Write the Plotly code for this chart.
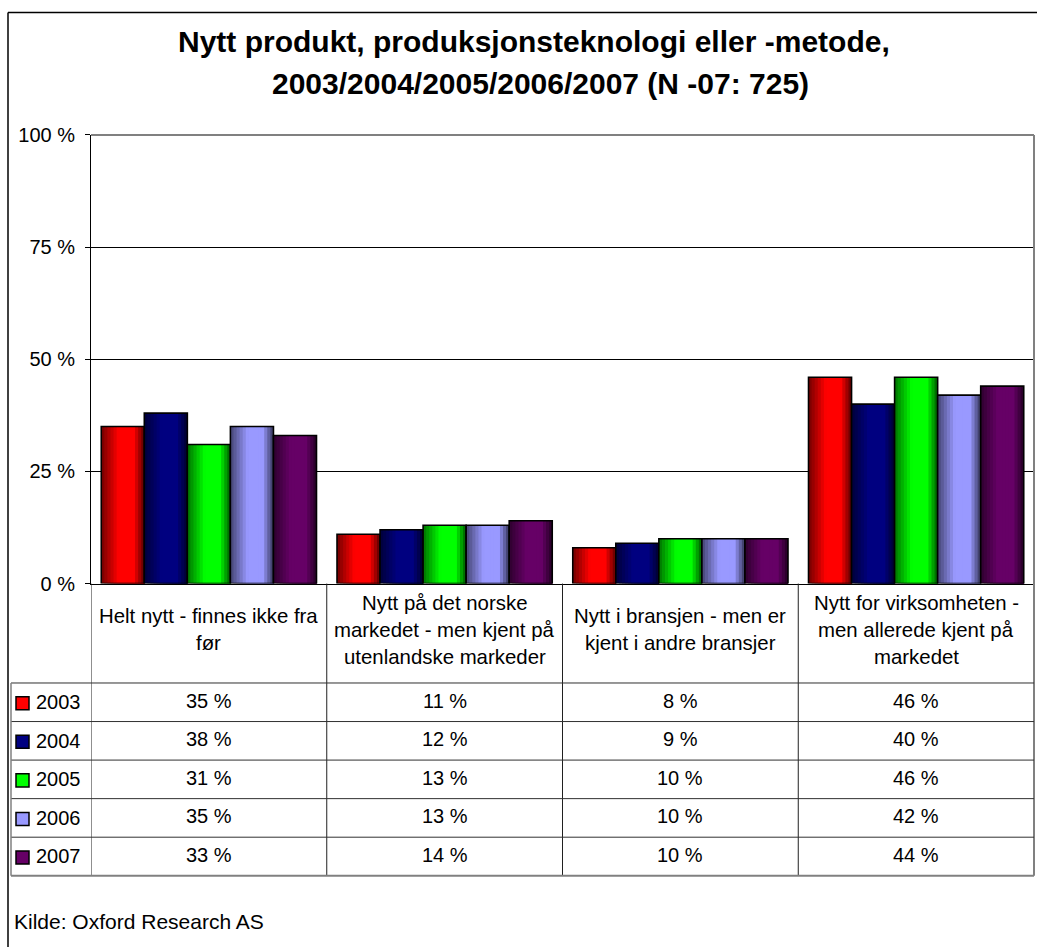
import plotly.graph_objects as go

# ---------------- data ----------------
categories = [
    "Helt nytt - finnes ikke fra<br>før",
    "Nytt på det norske<br>markedet - men kjent på<br>utenlandske markeder",
    "Nytt i bransjen - men er<br>kjent i andre bransjer",
    "Nytt for virksomheten -<br>men allerede kjent på<br>markedet",
]
years = ["2003", "2004", "2005", "2006", "2007"]
values_2003 = [35, 11, 8, 46]
values_2004 = [38, 12, 9, 40]
values_2005 = [31, 13, 10, 46]
values_2006 = [35, 13, 10, 42]
values_2007 = [33, 14, 10, 44]
series_values = [values_2003, values_2004, values_2005, values_2006, values_2007]
colors = ["#FF0000", "#000080", "#00FF00", "#9999FF", "#660066"]
y_ticks = [0, 25, 50, 75, 100]
y_tick_labels = ["0 %", "25 %", "50 %", "75 %", "100 %"]
title_lines = [
    "Nytt produkt, produksjonsteknologi eller -metode,",
    "2003/2004/2005/2006/2007 (N -07: 725)",
]
source_text = "Kilde: Oxford Research AS"

# ---------------- layout constants (pixels in the target picture) ----------------
W, H = 1037, 947
FONT = "Liberation Sans, Arial, sans-serif"
PLOT_L, PLOT_R, PLOT_T, PLOT_B = 91, 1034, 135, 582
HEADER_MID = 628
HEADER_LINE = 27
ROW_TOP, ROW_BOT = 681, 873
N_ROWS = len(years)
ROW_H = (ROW_BOT - ROW_TOP) / N_ROWS
TITLE_X = [534, 540]
TITLE_Y = [42, 84]

# vertical calibration of the photographed page (measured offset / scale)
Y_OFF, Y_SCALE = 11.6, 0.973


def px(x):
    return x / W


def py(y):
    return 1 - ((y - Y_OFF) / Y_SCALE) / H


def hex_rgb(h):
    h = h.lstrip("#")
    return tuple(int(h[i:i + 2], 16) for i in (0, 2, 4))


def shade_factor(t):
    pts = [(0.0, 0.45), (0.4, 1.0), (0.75, 1.0), (1.0, 0.35)]
    for (t0, f0), (t1, f1) in zip(pts[:-1], pts[1:]):
        if t0 <= t <= t1:
            return f0 + (f1 - f0) * (t - t0) / (t1 - t0)
    return 1.0


fig = go.Figure()

x_pos = list(range(len(categories)))
GROUP = 0.913
bw = GROUP / len(years)
N_STRIPS = 14

for i, (yr, vals, col) in enumerate(zip(years, series_values, colors)):
    base = hex_rgb(col)
    o = -GROUP / 2 + i * bw
    for k in range(N_STRIPS):
        t = (k + 0.5) / N_STRIPS
        f = shade_factor(t)
        c = "rgb(%d,%d,%d)" % tuple(min(255, int(round(v * f))) for v in base)
        fig.add_trace(go.Bar(
            x=x_pos, y=vals,
            offset=o + k * bw / N_STRIPS,
            width=bw - k * bw / N_STRIPS,
            marker=dict(color=c, line=dict(width=0)),
            showlegend=False, hoverinfo="skip",
        ))
    fig.add_trace(go.Bar(
        x=x_pos, y=vals, name=yr,
        offset=o, width=bw,
        marker=dict(color="rgba(0,0,0,0)", line=dict(color="black", width=1.6)),
        showlegend=False,
        hovertemplate=yr + ": %{y} %<extra></extra>",
    ))

shapes = []
annotations = []

# outer frame
shapes.append(dict(type="line", xref="paper", yref="paper",
                   x0=px(8), x1=px(1040), y0=py(13), y1=py(13),
                   line=dict(color="black", width=1.5)))
shapes.append(dict(type="line", xref="paper", yref="paper",
                   x0=px(8), x1=px(8), y0=py(13), y1=-0.05,
                   line=dict(color="black", width=1.5)))

# plot area top / right border (gray)
shapes.append(dict(type="line", xref="paper", yref="paper",
                   x0=px(PLOT_L), x1=px(PLOT_R), y0=py(PLOT_T), y1=py(PLOT_T),
                   line=dict(color="#808080", width=2)))
shapes.append(dict(type="line", xref="paper", yref="paper",
                   x0=px(PLOT_R), x1=px(PLOT_R), y0=py(PLOT_T), y1=py(ROW_BOT),
                   line=dict(color="#808080", width=2)))

# table vertical lines at category boundaries
for b in range(len(categories)):
    shapes.append(dict(type="line", xref="x", yref="paper",
                       x0=b - 0.5, x1=b - 0.5, y0=py(PLOT_B), y1=py(ROW_BOT),
                       line=dict(color="#202020", width=1)))

# table row lines
for r in range(N_ROWS + 1):
    yy = ROW_TOP + r * ROW_H
    last = r == N_ROWS
    shapes.append(dict(type="line", xref="paper", yref="paper",
                       x0=px(11), x1=px(PLOT_R), y0=py(yy), y1=py(yy),
                       line=dict(color="#808080" if last else "#303030",
                                 width=2 if last else 1)))
# table left border
shapes.append(dict(type="line", xref="paper", yref="paper",
                   x0=px(11), x1=px(11), y0=py(ROW_TOP), y1=py(ROW_BOT),
                   line=dict(color="#808080", width=1.5)))

# header labels
for ci, cat in enumerate(categories):
    lines = cat.split("<br>")
    n = len(lines)
    for li, line in enumerate(lines):
        yy = HEADER_MID + (li - (n - 1) / 2) * HEADER_LINE
        annotations.append(dict(xref="x", yref="paper", x=ci, y=py(yy),
                                text=line, showarrow=False,
                                xanchor="center", yanchor="middle",
                                font=dict(family=FONT, size=20.4, color="black")))

# rows: legend keys, year labels and values
for r, (yr, vals, col) in enumerate(zip(years, series_values, colors)):
    yc = ROW_TOP + (r + 0.5) * ROW_H
    shapes.append(dict(type="rect", xref="paper", yref="paper",
                       x0=px(16), x1=px(29), y0=py(yc - 5.5), y1=py(yc + 7.5),
                       fillcolor=col, line=dict(color="black", width=1.5)))
    annotations.append(dict(xref="paper", yref="paper", x=px(34), y=py(yc),
                            text=yr, showarrow=False,
                            xanchor="left", yanchor="middle",
                            font=dict(family=FONT, size=20, color="black")))
    for ci, v in enumerate(vals):
        annotations.append(dict(xref="x", yref="paper", x=ci, y=py(yc - 1.5),
                                text="%d %%" % v, showarrow=False,
                                xanchor="center", yanchor="middle",
                                font=dict(family=FONT, size=20, color="black")))

# title
for li, line in enumerate(title_lines):
    annotations.append(dict(xref="paper", yref="paper", x=px(TITLE_X[li]),
                            y=py(TITLE_Y[li]), text="<b>%s</b>" % line,
                            showarrow=False, xanchor="center", yanchor="middle",
                            font=dict(family=FONT, size=30, color="black")))

# source
annotations.append(dict(xref="paper", yref="paper", x=px(12), y=py(919),
                        text=source_text, showarrow=False,
                        xanchor="left", yanchor="middle",
                        font=dict(family=FONT, size=21, color="black")))

fig.update_layout(
    width=W, height=H, autosize=False,
    margin=dict(l=0, r=0, t=0, b=0),
    paper_bgcolor="white", plot_bgcolor="white",
    barmode="overlay",
    showlegend=False,
    xaxis=dict(domain=[px(PLOT_L), px(PLOT_R)], range=[-0.5, len(categories) - 0.5],
               showticklabels=False, ticks="", showgrid=False, zeroline=False,
               showline=True, linecolor="black", linewidth=1, fixedrange=True),
    yaxis=dict(domain=[py(PLOT_B), py(PLOT_T)], range=[0, 100],
               tickvals=y_ticks, ticktext=y_tick_labels,
               ticks="outside", ticklen=5, tickcolor="black", tickwidth=1,
               ticklabelstandoff=6,
               tickfont=dict(family=FONT, size=20, color="black"),
               showgrid=True, gridcolor="black", gridwidth=1,
               zeroline=False, showline=True, linecolor="black", linewidth=1,
               fixedrange=True),
    shapes=shapes,
    annotations=annotations,
    font=dict(family=FONT, size=20, color="black"),
)

fig.write_html(
    "out.html",
    config={"displayModeBar": False},
    post_script=(
        "document.documentElement.style.margin='0';"
        "document.documentElement.style.padding='0';"
        "document.documentElement.style.overflow='hidden';"
        "document.body.style.margin='0';"
        "document.body.style.padding='0';"
        "document.body.style.overflow='hidden';"
        "var gd=document.getElementById('{plot_id}');"
        "gd.style.position='fixed';gd.style.left='0px';gd.style.top='0px';"
    ),
)
